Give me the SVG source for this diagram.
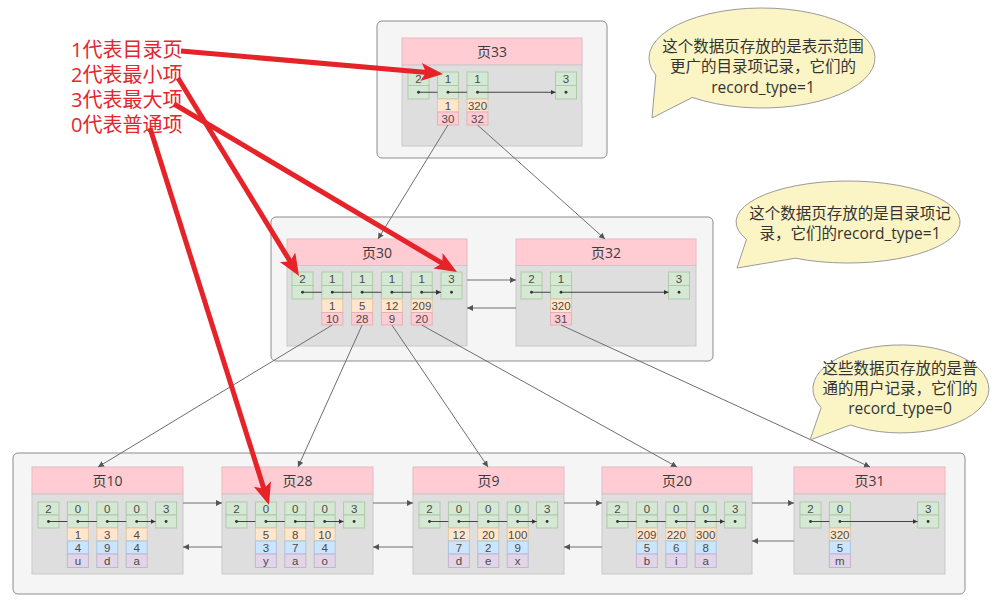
<svg xmlns="http://www.w3.org/2000/svg" width="1001" height="602" viewBox="0 0 1001 602">
<style>
text{font-family:"Open Sans","Noto Sans CJK SC",sans-serif}
.ob{fill:#f5f5f5;stroke:#8c8c8c;stroke-width:1}
.hd{fill:#ffccd3;stroke:#e8b9bf;stroke-width:1}
.bd{fill:#dedede;stroke:#c9c9c9;stroke-width:1}
.g{fill:#d5e8d4;stroke:#aecaa9;stroke-width:1}
.o{fill:#ffe6cc;stroke:#e3c7a2;stroke-width:1}
.p{fill:#ffccd3;stroke:#e3b1b8;stroke-width:1}
.b{fill:#cce5ff;stroke:#a8c5e2;stroke-width:1}
.u{fill:#e1d5e7;stroke:#c6b3d1;stroke-width:1}
.t{font-family:"Liberation Sans",Arial,sans-serif;font-size:11.5px;fill:#4a4a4a;text-anchor:middle;dominant-baseline:central}
.h{font-size:14px;fill:#3c3c3c;text-anchor:middle;dominant-baseline:central}
.d{fill:#333}
.ra{stroke:#333;stroke-width:0.9;fill:none;marker-end:url(#sa)}
.cn{stroke:#6e6e6e;stroke-width:1;fill:none;marker-end:url(#ca)}
.red{stroke:#e52329;stroke-width:5;fill:none;marker-end:url(#rh)}
.bub{fill:#fbf4c4;stroke:#9a9a9a;stroke-width:1}
.bt{font-size:15.5px;fill:#333;text-anchor:middle;dominant-baseline:central}
.lg{font-size:20px;fill:#e5262e;dominant-baseline:central}
</style>
<defs>
<marker id="sa" markerUnits="userSpaceOnUse" markerWidth="6" markerHeight="6" refX="5" refY="2.5" orient="auto"><path d="M0,0 L5,2.5 L0,5 z" fill="#333"/></marker>
<marker id="ca" markerUnits="userSpaceOnUse" markerWidth="7" markerHeight="7" refX="6" refY="3" orient="auto"><path d="M0,0 L6,3 L0,6 z" fill="#555"/></marker>
<marker id="rh" markerUnits="userSpaceOnUse" markerWidth="24" markerHeight="20" refX="6" refY="9" orient="auto"><path d="M0,0 L22,9 L0,18 L5,9 z" fill="#e52329"/></marker>
</defs>

<g id="level1-box"><rect class="ob" x="377" y="21" width="230" height="137" rx="5"/></g>
<g id="level2-box"><rect class="ob" x="271" y="217" width="442" height="144" rx="5"/></g>
<g id="level3-box"><rect class="ob" x="13" y="453" width="952" height="141" rx="5"/></g>

<g id="page33">
<rect class="hd" x="402" y="38" width="180" height="27"/>
<rect class="bd" x="402" y="65" width="180" height="81"/>
<text class="h" x="492" y="51.5">页33</text>
<rect class="g" x="408" y="72" width="21" height="13.5"/><rect class="g" x="408" y="85.5" width="21" height="13.5"/><text class="t" x="418.5" y="78.75">2</text><circle class="d" cx="418.5" cy="92.25" r="1.4"/>
<rect class="g" x="437.5" y="72" width="21" height="13.5"/><rect class="g" x="437.5" y="85.5" width="21" height="13.5"/><text class="t" x="448" y="78.75">1</text><circle class="d" cx="448" cy="92.25" r="1.4"/>
<rect class="o" x="437.5" y="99" width="21" height="13"/><text class="t" x="448" y="105.5">1</text>
<rect class="p" x="437.5" y="112" width="21" height="13"/><text class="t" x="448" y="118.5">30</text>
<rect class="g" x="467" y="72" width="21" height="13.5"/><rect class="g" x="467" y="85.5" width="21" height="13.5"/><text class="t" x="477.5" y="78.75">1</text><circle class="d" cx="477.5" cy="92.25" r="1.4"/>
<rect class="o" x="467" y="99" width="21" height="13"/><text class="t" x="477.5" y="105.5">320</text>
<rect class="p" x="467" y="112" width="21" height="13"/><text class="t" x="477.5" y="118.5">32</text>
<rect class="g" x="555.5" y="72" width="21" height="13.5"/><rect class="g" x="555.5" y="85.5" width="21" height="13.5"/><text class="t" x="566" y="78.75">3</text><circle class="d" cx="566" cy="92.25" r="1.4"/>
<path class="ra" d="M418.5,92.25 H437.5 M448,92.25 H467 M477.5,92.25 H555.5"/>
</g>

<g id="page30">
<rect class="hd" x="287" y="239" width="180" height="26.5"/>
<rect class="bd" x="287" y="265.5" width="180" height="80.5"/>
<text class="h" x="377" y="252.3">页30</text>
<rect class="g" x="292" y="272" width="21" height="13.5"/><rect class="g" x="292" y="285.5" width="21" height="13.5"/><text class="t" x="302.5" y="278.75">2</text><circle class="d" cx="302.5" cy="292.25" r="1.4"/>
<rect class="g" x="321.8" y="272" width="21" height="13.5"/><rect class="g" x="321.8" y="285.5" width="21" height="13.5"/><text class="t" x="332.3" y="278.75">1</text><circle class="d" cx="332.3" cy="292.25" r="1.4"/>
<rect class="o" x="321.8" y="299" width="21" height="13.5"/><text class="t" x="332.3" y="305.75">1</text>
<rect class="p" x="321.8" y="312.5" width="21" height="12.5"/><text class="t" x="332.3" y="318.75">10</text>
<rect class="g" x="351.6" y="272" width="21" height="13.5"/><rect class="g" x="351.6" y="285.5" width="21" height="13.5"/><text class="t" x="362.1" y="278.75">1</text><circle class="d" cx="362.1" cy="292.25" r="1.4"/>
<rect class="o" x="351.6" y="299" width="21" height="13.5"/><text class="t" x="362.1" y="305.75">5</text>
<rect class="p" x="351.6" y="312.5" width="21" height="12.5"/><text class="t" x="362.1" y="318.75">28</text>
<rect class="g" x="381.4" y="272" width="21" height="13.5"/><rect class="g" x="381.4" y="285.5" width="21" height="13.5"/><text class="t" x="391.9" y="278.75">1</text><circle class="d" cx="391.9" cy="292.25" r="1.4"/>
<rect class="o" x="381.4" y="299" width="21" height="13.5"/><text class="t" x="391.9" y="305.75">12</text>
<rect class="p" x="381.4" y="312.5" width="21" height="12.5"/><text class="t" x="391.9" y="318.75">9</text>
<rect class="g" x="411.2" y="272" width="21" height="13.5"/><rect class="g" x="411.2" y="285.5" width="21" height="13.5"/><text class="t" x="421.7" y="278.75">1</text><circle class="d" cx="421.7" cy="292.25" r="1.4"/>
<rect class="o" x="411.2" y="299" width="21" height="13.5"/><text class="t" x="421.7" y="305.75">209</text>
<rect class="p" x="411.2" y="312.5" width="21" height="12.5"/><text class="t" x="421.7" y="318.75">20</text>
<rect class="g" x="441" y="272" width="21" height="13.5"/><rect class="g" x="441" y="285.5" width="21" height="13.5"/><text class="t" x="451.5" y="278.75">3</text><circle class="d" cx="451.5" cy="292.25" r="1.4"/>
<path class="ra" d="M302.5,292.25 H321.8 M332.3,292.25 H351.6 M362.1,292.25 H381.4 M391.9,292.25 H411.2 M421.7,292.25 H441"/>
</g>

<g id="page32">
<rect class="hd" x="516" y="239" width="180" height="26.5"/>
<rect class="bd" x="516" y="265.5" width="180" height="80.5"/>
<text class="h" x="606" y="252.3">页32</text>
<rect class="g" x="521" y="272" width="21" height="13.5"/><rect class="g" x="521" y="285.5" width="21" height="13.5"/><text class="t" x="531.5" y="278.75">2</text><circle class="d" cx="531.5" cy="292.25" r="1.4"/>
<rect class="g" x="550.5" y="272" width="21" height="13.5"/><rect class="g" x="550.5" y="285.5" width="21" height="13.5"/><text class="t" x="561" y="278.75">1</text><circle class="d" cx="561" cy="292.25" r="1.4"/>
<rect class="o" x="550.5" y="299" width="21" height="13.5"/><text class="t" x="561" y="305.75">320</text>
<rect class="p" x="550.5" y="312.5" width="21" height="12.5"/><text class="t" x="561" y="318.75">31</text>
<rect class="g" x="668.5" y="272" width="21" height="13.5"/><rect class="g" x="668.5" y="285.5" width="21" height="13.5"/><text class="t" x="679" y="278.75">3</text><circle class="d" cx="679" cy="292.25" r="1.4"/>
<path class="ra" d="M531.5,292.25 H550.5 M561,292.25 H668.5"/>
</g>

<g id="page10">
<rect class="hd" x="32" y="467" width="151" height="27"/>
<rect class="bd" x="32" y="494" width="151" height="80"/>
<text class="h" x="107.5" y="480.5">页10</text>
<rect class="g" x="38" y="502" width="21" height="13"/><rect class="g" x="38" y="515" width="21" height="13"/><text class="t" x="48.5" y="508.5">2</text><circle class="d" cx="48.5" cy="521.5" r="1.4"/>
<rect class="g" x="67.4" y="502" width="21" height="13"/><rect class="g" x="67.4" y="515" width="21" height="13"/><text class="t" x="77.9" y="508.5">0</text><circle class="d" cx="77.9" cy="521.5" r="1.4"/>
<rect class="o" x="67.4" y="528" width="21" height="13"/><text class="t" x="77.9" y="534.5">1</text>
<rect class="b" x="67.4" y="541" width="21" height="13"/><text class="t" x="77.9" y="547.5">4</text>
<rect class="u" x="67.4" y="554" width="21" height="13.5"/><text class="t" x="77.9" y="560.5">u</text>
<rect class="g" x="96.8" y="502" width="21" height="13"/><rect class="g" x="96.8" y="515" width="21" height="13"/><text class="t" x="107.3" y="508.5">0</text><circle class="d" cx="107.3" cy="521.5" r="1.4"/>
<rect class="o" x="96.8" y="528" width="21" height="13"/><text class="t" x="107.3" y="534.5">3</text>
<rect class="b" x="96.8" y="541" width="21" height="13"/><text class="t" x="107.3" y="547.5">9</text>
<rect class="u" x="96.8" y="554" width="21" height="13.5"/><text class="t" x="107.3" y="560.5">d</text>
<rect class="g" x="126.2" y="502" width="21" height="13"/><rect class="g" x="126.2" y="515" width="21" height="13"/><text class="t" x="136.7" y="508.5">0</text><circle class="d" cx="136.7" cy="521.5" r="1.4"/>
<rect class="o" x="126.2" y="528" width="21" height="13"/><text class="t" x="136.7" y="534.5">4</text>
<rect class="b" x="126.2" y="541" width="21" height="13"/><text class="t" x="136.7" y="547.5">4</text>
<rect class="u" x="126.2" y="554" width="21" height="13.5"/><text class="t" x="136.7" y="560.5">a</text>
<rect class="g" x="155.6" y="502" width="21" height="13"/><rect class="g" x="155.6" y="515" width="21" height="13"/><text class="t" x="166.1" y="508.5">3</text><circle class="d" cx="166.1" cy="521.5" r="1.4"/>
<path class="ra" d="M48.5,521.5 H67.4 M77.9,521.5 H96.8 M107.3,521.5 H126.2 M136.7,521.5 H155.6"/>
</g>

<g id="page28">
<rect class="hd" x="222" y="467" width="151" height="27"/>
<rect class="bd" x="222" y="494" width="151" height="80"/>
<text class="h" x="297.5" y="480.5">页28</text>
<rect class="g" x="226" y="502" width="21" height="13"/><rect class="g" x="226" y="515" width="21" height="13"/><text class="t" x="236.5" y="508.5">2</text><circle class="d" cx="236.5" cy="521.5" r="1.4"/>
<rect class="g" x="255.4" y="502" width="21" height="13"/><rect class="g" x="255.4" y="515" width="21" height="13"/><text class="t" x="265.9" y="508.5">0</text><circle class="d" cx="265.9" cy="521.5" r="1.4"/>
<rect class="o" x="255.4" y="528" width="21" height="13"/><text class="t" x="265.9" y="534.5">5</text>
<rect class="b" x="255.4" y="541" width="21" height="13"/><text class="t" x="265.9" y="547.5">3</text>
<rect class="u" x="255.4" y="554" width="21" height="13.5"/><text class="t" x="265.9" y="560.5">y</text>
<rect class="g" x="284.8" y="502" width="21" height="13"/><rect class="g" x="284.8" y="515" width="21" height="13"/><text class="t" x="295.3" y="508.5">0</text><circle class="d" cx="295.3" cy="521.5" r="1.4"/>
<rect class="o" x="284.8" y="528" width="21" height="13"/><text class="t" x="295.3" y="534.5">8</text>
<rect class="b" x="284.8" y="541" width="21" height="13"/><text class="t" x="295.3" y="547.5">7</text>
<rect class="u" x="284.8" y="554" width="21" height="13.5"/><text class="t" x="295.3" y="560.5">a</text>
<rect class="g" x="314.2" y="502" width="21" height="13"/><rect class="g" x="314.2" y="515" width="21" height="13"/><text class="t" x="324.7" y="508.5">0</text><circle class="d" cx="324.7" cy="521.5" r="1.4"/>
<rect class="o" x="314.2" y="528" width="21" height="13"/><text class="t" x="324.7" y="534.5">10</text>
<rect class="b" x="314.2" y="541" width="21" height="13"/><text class="t" x="324.7" y="547.5">4</text>
<rect class="u" x="314.2" y="554" width="21" height="13.5"/><text class="t" x="324.7" y="560.5">o</text>
<rect class="g" x="343.6" y="502" width="21" height="13"/><rect class="g" x="343.6" y="515" width="21" height="13"/><text class="t" x="354.1" y="508.5">3</text><circle class="d" cx="354.1" cy="521.5" r="1.4"/>
<path class="ra" d="M236.5,521.5 H255.4 M265.9,521.5 H284.8 M295.3,521.5 H314.2 M324.7,521.5 H343.6"/>
</g>

<g id="page9">
<rect class="hd" x="413" y="467" width="151" height="27"/>
<rect class="bd" x="413" y="494" width="151" height="80"/>
<text class="h" x="488.5" y="480.5">页9</text>
<rect class="g" x="419" y="502" width="21" height="13"/><rect class="g" x="419" y="515" width="21" height="13"/><text class="t" x="429.5" y="508.5">2</text><circle class="d" cx="429.5" cy="521.5" r="1.4"/>
<rect class="g" x="448.4" y="502" width="21" height="13"/><rect class="g" x="448.4" y="515" width="21" height="13"/><text class="t" x="458.9" y="508.5">0</text><circle class="d" cx="458.9" cy="521.5" r="1.4"/>
<rect class="o" x="448.4" y="528" width="21" height="13"/><text class="t" x="458.9" y="534.5">12</text>
<rect class="b" x="448.4" y="541" width="21" height="13"/><text class="t" x="458.9" y="547.5">7</text>
<rect class="u" x="448.4" y="554" width="21" height="13.5"/><text class="t" x="458.9" y="560.5">d</text>
<rect class="g" x="477.8" y="502" width="21" height="13"/><rect class="g" x="477.8" y="515" width="21" height="13"/><text class="t" x="488.3" y="508.5">0</text><circle class="d" cx="488.3" cy="521.5" r="1.4"/>
<rect class="o" x="477.8" y="528" width="21" height="13"/><text class="t" x="488.3" y="534.5">20</text>
<rect class="b" x="477.8" y="541" width="21" height="13"/><text class="t" x="488.3" y="547.5">2</text>
<rect class="u" x="477.8" y="554" width="21" height="13.5"/><text class="t" x="488.3" y="560.5">e</text>
<rect class="g" x="507.2" y="502" width="21" height="13"/><rect class="g" x="507.2" y="515" width="21" height="13"/><text class="t" x="517.7" y="508.5">0</text><circle class="d" cx="517.7" cy="521.5" r="1.4"/>
<rect class="o" x="507.2" y="528" width="21" height="13"/><text class="t" x="517.7" y="534.5">100</text>
<rect class="b" x="507.2" y="541" width="21" height="13"/><text class="t" x="517.7" y="547.5">9</text>
<rect class="u" x="507.2" y="554" width="21" height="13.5"/><text class="t" x="517.7" y="560.5">x</text>
<rect class="g" x="536.6" y="502" width="21" height="13"/><rect class="g" x="536.6" y="515" width="21" height="13"/><text class="t" x="547.1" y="508.5">3</text><circle class="d" cx="547.1" cy="521.5" r="1.4"/>
<path class="ra" d="M429.5,521.5 H448.4 M458.9,521.5 H477.8 M488.3,521.5 H507.2 M517.7,521.5 H536.6"/>
</g>

<g id="page20">
<rect class="hd" x="602" y="467" width="150" height="27"/>
<rect class="bd" x="602" y="494" width="150" height="80"/>
<text class="h" x="677" y="480.5">页20</text>
<rect class="g" x="607" y="502" width="21" height="13"/><rect class="g" x="607" y="515" width="21" height="13"/><text class="t" x="617.5" y="508.5">2</text><circle class="d" cx="617.5" cy="521.5" r="1.4"/>
<rect class="g" x="636.4" y="502" width="21" height="13"/><rect class="g" x="636.4" y="515" width="21" height="13"/><text class="t" x="646.9" y="508.5">0</text><circle class="d" cx="646.9" cy="521.5" r="1.4"/>
<rect class="o" x="636.4" y="528" width="21" height="13"/><text class="t" x="646.9" y="534.5">209</text>
<rect class="b" x="636.4" y="541" width="21" height="13"/><text class="t" x="646.9" y="547.5">5</text>
<rect class="u" x="636.4" y="554" width="21" height="13.5"/><text class="t" x="646.9" y="560.5">b</text>
<rect class="g" x="665.8" y="502" width="21" height="13"/><rect class="g" x="665.8" y="515" width="21" height="13"/><text class="t" x="676.3" y="508.5">0</text><circle class="d" cx="676.3" cy="521.5" r="1.4"/>
<rect class="o" x="665.8" y="528" width="21" height="13"/><text class="t" x="676.3" y="534.5">220</text>
<rect class="b" x="665.8" y="541" width="21" height="13"/><text class="t" x="676.3" y="547.5">6</text>
<rect class="u" x="665.8" y="554" width="21" height="13.5"/><text class="t" x="676.3" y="560.5">i</text>
<rect class="g" x="695.2" y="502" width="21" height="13"/><rect class="g" x="695.2" y="515" width="21" height="13"/><text class="t" x="705.7" y="508.5">0</text><circle class="d" cx="705.7" cy="521.5" r="1.4"/>
<rect class="o" x="695.2" y="528" width="21" height="13"/><text class="t" x="705.7" y="534.5">300</text>
<rect class="b" x="695.2" y="541" width="21" height="13"/><text class="t" x="705.7" y="547.5">8</text>
<rect class="u" x="695.2" y="554" width="21" height="13.5"/><text class="t" x="705.7" y="560.5">a</text>
<rect class="g" x="724.6" y="502" width="21" height="13"/><rect class="g" x="724.6" y="515" width="21" height="13"/><text class="t" x="735.1" y="508.5">3</text><circle class="d" cx="735.1" cy="521.5" r="1.4"/>
<path class="ra" d="M617.5,521.5 H636.4 M646.9,521.5 H665.8 M676.3,521.5 H695.2 M705.7,521.5 H724.6"/>
</g>

<g id="page31">
<rect class="hd" x="794" y="467" width="151" height="27"/>
<rect class="bd" x="794" y="494" width="151" height="80"/>
<text class="h" x="869.5" y="480.5">页31</text>
<rect class="g" x="800" y="502" width="21" height="13"/><rect class="g" x="800" y="515" width="21" height="13"/><text class="t" x="810.5" y="508.5">2</text><circle class="d" cx="810.5" cy="521.5" r="1.4"/>
<rect class="g" x="829.4" y="502" width="21" height="13"/><rect class="g" x="829.4" y="515" width="21" height="13"/><text class="t" x="839.9" y="508.5">0</text><circle class="d" cx="839.9" cy="521.5" r="1.4"/>
<rect class="o" x="829.4" y="528" width="21" height="13"/><text class="t" x="839.9" y="534.5">320</text>
<rect class="b" x="829.4" y="541" width="21" height="13"/><text class="t" x="839.9" y="547.5">5</text>
<rect class="u" x="829.4" y="554" width="21" height="13.5"/><text class="t" x="839.9" y="560.5">m</text>
<rect class="g" x="917.6" y="502" width="21" height="13"/><rect class="g" x="917.6" y="515" width="21" height="13"/><text class="t" x="928.1" y="508.5">3</text><circle class="d" cx="928.1" cy="521.5" r="1.4"/>
<path class="ra" d="M810.5,521.5 H829.4 M839.9,521.5 H917.6"/>
</g>

<g id="connectors">
<path class="cn" d="M448,125 L378,239"/>
<path class="cn" d="M477.5,125 L605,239"/>
<path class="cn" d="M332.3,325 L98,467"/>
<path class="cn" d="M362.1,325 L298,467"/>
<path class="cn" d="M391.9,325 L488,467"/>
<path class="cn" d="M421.7,325 L677,467"/>
<path class="cn" d="M561,325 L870,467"/>
<path class="cn" d="M467,280 H516"/>
<path class="cn" d="M516,308 H467"/>
<path class="cn" d="M183,503 H222"/>
<path class="cn" d="M373,503 H413"/>
<path class="cn" d="M564,503 H602"/>
<path class="cn" d="M752,503 H794"/>
<path class="cn" d="M222,547 H183"/>
<path class="cn" d="M413,547 H373"/>
<path class="cn" d="M602,547 H564"/>
<path class="cn" d="M794,541 H752"/>
</g>

<g id="bubble1">
<path class="bub" d="M692.4,97.4 L652,118 L655.8,75.1 A113,50 0 1 1 692.4,97.4 Z"/>
<text class="bt" x="763" y="46">这个数据页存放的是表示范围</text>
<text class="bt" x="763" y="66">更广的目录项记录，它们的</text>
<text class="bt" x="763" y="86.5">record_type=1</text>
</g>
<g id="bubble2">
<path class="bub" d="M795.4,258.2 L737,268 L746.5,239.3 A112,41 0 1 1 795.4,258.2 Z"/>
<text class="bt" x="850" y="213">这个数据页存放的是目录项记</text>
<text class="bt" x="850" y="233">录，它们的record_type=1</text>
</g>
<g id="bubble3">
<path class="bub" d="M850.5,425 L810,440 L821.2,407.6 A88,44 0 1 1 850.5,425 Z"/>
<text class="bt" x="900" y="368">这些数据页存放的是普</text>
<text class="bt" x="900" y="388">通的用户记录，它们的</text>
<text class="bt" x="900" y="408">record_type=0</text>
</g>

<g id="legend">
<text class="lg" x="71" y="49">1代表目录页</text>
<text class="lg" x="71" y="74">2代表最小项</text>
<text class="lg" x="71" y="99">3代表最大项</text>
<text class="lg" x="71" y="124">0代表普通项</text>
</g>

<g id="red-arrows">
<path class="red" d="M181,51 L427.1,72.5"/>
<path class="red" d="M178,78 L290.7,262.3"/>
<path class="red" d="M174,104 L443.2,263.8"/>
<path class="red" d="M150,128 L264.2,489.7"/>
</g>
</svg>
